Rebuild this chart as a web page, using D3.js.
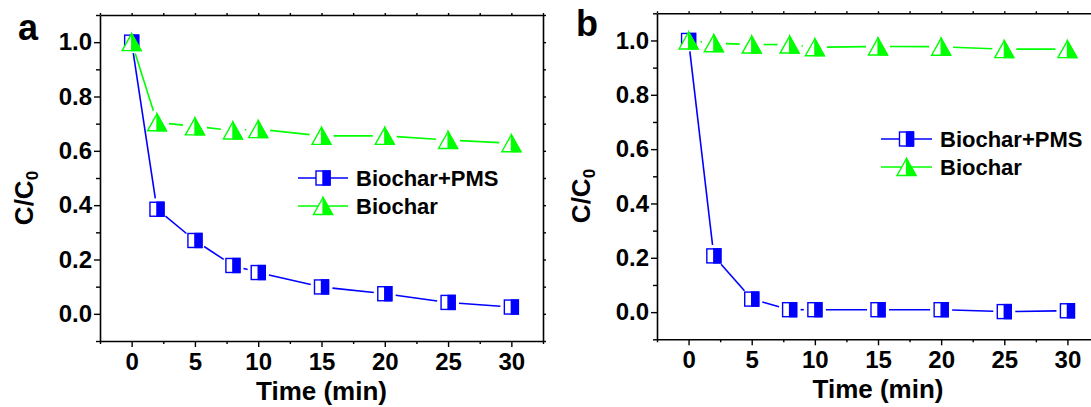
<!DOCTYPE html>
<html><head><meta charset="utf-8">
<script src="https://cdn.jsdelivr.net/npm/d3@7"></script>
<style>
body{margin:0;background:#fff}
svg{display:block}
text{font-family:"Liberation Sans",Arial,sans-serif;font-weight:bold;fill:#000}
</style>
</head><body>
<svg id="c" width="1091" height="407"></svg>
<script>
// ---- data ----
const times = [0, 2, 5, 8, 10, 15, 20, 25, 30];
const pmsA = [1.0, 0.385, 0.27, 0.178, 0.152, 0.099, 0.074, 0.042, 0.025];
const biocharA = [1.0, 0.705, 0.69, 0.675, 0.68, 0.655, 0.655, 0.64, 0.628];
const pmsB = [1.0, 0.207, 0.048, 0.009, 0.009, 0.009, 0.009, 0.002, 0.005];
const biocharB = [1.0, 0.99, 0.985, 0.985, 0.975, 0.978, 0.977, 0.968, 0.968];
const xTicks = [0, 5, 10, 15, 20, 25, 30];
const xMinor = [-2.5, 2.5, 7.5, 12.5, 17.5, 22.5, 27.5, 32.5];
const yTicks = [0, 0.2, 0.4, 0.6, 0.8, 1.0];
const yMinor = [-0.1, 0.1, 0.3, 0.5, 0.7, 0.9, 1.1];
const seriesNames = ["Biochar+PMS", "Biochar"];
const panelLabels = ["a", "b"];
const xTitle = "Time (min)";

const BLUE = "#0000ff", GREEN = "#00ff00";
const svg = d3.select("#c");

function squareMarker(g, cx, cy) {
  const s = 14;
  g.append("rect").attr("x", cx - s/2).attr("y", cy - s/2).attr("width", s).attr("height", s)
    .attr("fill", "#fff").attr("stroke", BLUE).attr("stroke-width", 1.4);
  g.append("rect").attr("x", cx).attr("y", cy - s/2).attr("width", s/2).attr("height", s)
    .attr("fill", BLUE).attr("stroke", BLUE).attr("stroke-width", 1.4);
}
function triMarker(g, cx, cy) {
  const w = 19, h = 17;
  const top = [cx, cy - h/2], bl = [cx - w/2, cy + h/2], br = [cx + w/2, cy + h/2];
  g.append("path").attr("d", `M${top}L${bl}L${br}Z`)
    .attr("fill", "#fff").attr("stroke", GREEN).attr("stroke-width", 1.4).attr("stroke-linejoin", "miter");
  g.append("path").attr("d", `M${top}L${[cx, cy + h/2]}L${br}Z`)
    .attr("fill", GREEN).attr("stroke", GREEN).attr("stroke-width", 1.2);
}
function gappedLine(g, pts, gap, color) {
  for (let i = 0; i < pts.length - 1; i++) {
    const [x0, y0] = pts[i], [x1, y1] = pts[i + 1];
    const d = Math.hypot(x1 - x0, y1 - y0);
    if (d <= 2 * gap + 1) continue;
    const ux = (x1 - x0) / d, uy = (y1 - y0) / d;
    g.append("line")
      .attr("x1", x0 + ux * gap).attr("y1", y0 + uy * gap)
      .attr("x2", x1 - ux * gap).attr("y2", y1 - uy * gap)
      .attr("stroke", color).attr("stroke-width", 1.6);
  }
}

function panel(cfg) {
  const g = svg.append("g");
  const x = d3.scaleLinear().domain([-2.5, 32.5]).range([cfg.left, cfg.right]);
  const y = d3.scaleLinear().domain([-0.1, 1.1]).range([cfg.bottom, cfg.top]);

  const styleAxis = sel => {
    sel.selectAll("path.domain").attr("stroke", "#000").attr("stroke-width", 1.6);
    sel.selectAll(".tick line").attr("stroke", "#000").attr("stroke-width", 1.4);
    sel.selectAll(".tick text").attr("font-size", 24).attr("font-family", '"Liberation Sans",Arial,sans-serif').attr("font-weight", "bold").attr("fill", "#000");
  };

  // bottom
  g.append("g").attr("transform", `translate(0,${cfg.bottom})`)
    .call(d3.axisBottom(x).tickValues(xTicks).tickSize(6).tickSizeOuter(0).tickPadding(6).tickFormat(d3.format("d")))
    .call(styleAxis);
  g.append("g").attr("transform", `translate(0,${cfg.bottom})`)
    .call(d3.axisBottom(x).tickValues(xMinor).tickSize(3).tickFormat(""))
    .call(s => s.select(".domain").remove()).call(styleAxis);
  // top
  g.append("g").attr("transform", `translate(0,${cfg.top})`)
    .call(d3.axisTop(x).tickValues(xTicks.concat(xMinor)).tickSize(2).tickSizeOuter(0).tickFormat(""))
    .call(styleAxis);
  // left
  g.append("g").attr("transform", `translate(${cfg.left},0)`)
    .call(d3.axisLeft(y).tickValues(yTicks).tickSize(6).tickSizeOuter(0).tickPadding(2).tickFormat(d3.format(".1f")))
    .call(styleAxis);
  g.append("g").attr("transform", `translate(${cfg.left},0)`)
    .call(d3.axisLeft(y).tickValues(yMinor).tickSize(4).tickFormat(""))
    .call(s => s.select(".domain").remove()).call(styleAxis);
  // right
  g.append("g").attr("transform", `translate(${cfg.right},0)`)
    .call(d3.axisRight(y).tickValues(yTicks.concat(yMinor)).tickSize(3).tickSizeOuter(0).tickFormat(""))
    .call(styleAxis);

  // series
  const pmsPts = times.map((t, i) => [x(t), y(cfg.pms[i])]);
  const bioPts = times.map((t, i) => [x(t), y(cfg.bio[i])]);
  gappedLine(g, pmsPts, 11, BLUE);
  gappedLine(g, bioPts, 12, GREEN);
  pmsPts.forEach(p => squareMarker(g, p[0], p[1]));
  bioPts.forEach(p => triMarker(g, p[0], p[1]));

  // legend
  const L = cfg.legend;
  [0, 1].forEach(i => {
    const ry = L.y + i * L.dy;
    const col = i === 0 ? BLUE : GREEN;
    g.append("line").attr("x1", L.x1).attr("x2", L.x2).attr("y1", ry).attr("y2", ry)
      .attr("stroke", col).attr("stroke-width", 1.6);
    if (i === 0) squareMarker(g, (L.x1 + L.x2) / 2, ry); else triMarker(g, (L.x1 + L.x2) / 2, ry);
    g.append("text").attr("x", L.tx).attr("y", ry).attr("dy", "0.36em")
      .attr("font-size", 22).text(seriesNames[i]);
  });

  // titles
  g.append("text").attr("x", (cfg.left + cfg.right) / 2).attr("y", cfg.xTitleY)
    .attr("text-anchor", "middle").attr("font-size", 26).text(xTitle);
  const yt = g.append("text").attr("transform", `translate(${cfg.yTitleX},${cfg.yTitleY}) rotate(-90)`)
    .attr("text-anchor", "middle").attr("font-size", 26);
  yt.append("tspan").text("C/C");
  yt.append("tspan").attr("font-size", 17).attr("dy", 5).text("0");

  g.append("text").attr("x", cfg.labX).attr("y", cfg.labY).attr("font-size", 36).text(cfg.label);
}

panel({left: 100, right: 543, top: 15, bottom: 341, pms: pmsA, bio: biocharA,
  legend: {x1: 298, x2: 348, tx: 356, y: 178, dy: 28},
  xTitleY: 400, yTitleX: 33, yTitleY: 198, label: panelLabels[0], labX: 18, labY: 40});
panel({left: 657, right: 1099, top: 13.3, bottom: 339.3, pms: pmsB, bio: biocharB,
  legend: {x1: 881, x2: 932, tx: 940, y: 139, dy: 28},
  xTitleY: 398, yTitleX: 590, yTitleY: 196, label: panelLabels[1], labX: 576, labY: 36});
</script>
</body></html>
